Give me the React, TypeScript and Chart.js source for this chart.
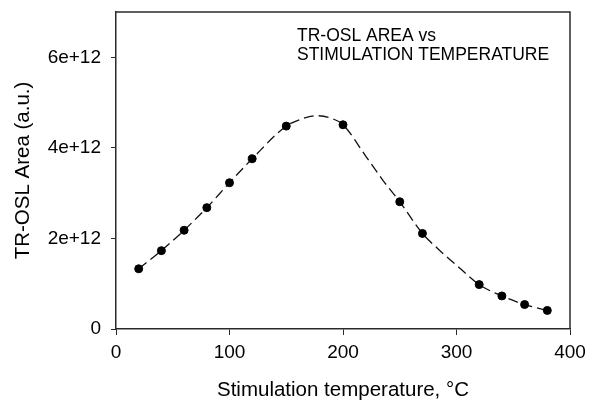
import React, { useEffect, useRef } from 'react';
import { Chart, registerables } from 'chart.js';

Chart.register(...registerables);

// Measured points (stimulation temperature, °C / TR-OSL area, a.u.)
const temps = [20, 40, 60, 80, 100, 120, 150, 200, 250, 270, 320, 340, 360, 380];
const areas = [1.33e12, 1.73e12, 2.18e12, 2.68e12, 3.23e12, 3.76e12, 4.48e12, 4.51e12, 2.81e12, 2.11e12, 0.98e12, 0.73e12, 0.54e12, 0.41e12];

// Fitted dashed curve
const fitTemps = [20, 40, 60, 80, 100, 120, 150, 165, 177, 190, 200, 220, 235, 250, 270, 285, 303, 320, 340, 360, 380];
const fitAreas = [1.33e12, 1.73e12, 2.18e12, 2.68e12, 3.23e12, 3.76e12, 4.48e12, 4.65e12, 4.71e12, 4.65e12, 4.51e12, 3.82e12, 3.29e12, 2.81e12, 2.11e12, 1.74e12, 1.34e12, 0.98e12, 0.73e12, 0.54e12, 0.41e12];

const xTicks = [0, 100, 200, 300, 400];
const yTicks = [0, 2e12, 4e12, 6e12];
const titleLines = ['TR-OSL AREA vs', 'STIMULATION TEMPERATURE'];
const xTitle = 'Stimulation temperature, \u00B0C';
const yTitle = 'TR-OSL Area (a.u.)';

const FONT = '"Liberation Sans", Arial, sans-serif';
const AXIS_COLOR = '#2a2a2a';

export default function App() {
  const ref = useRef<HTMLCanvasElement | null>(null);

  useEffect(() => {
    if (!ref.current) return;

    const framePlugin = {
      id: 'frameAndNote',
      afterDraw(chart: any) {
        const { ctx, chartArea } = chart;
        ctx.save();
        ctx.strokeStyle = AXIS_COLOR;
        ctx.lineWidth = 1.5;
        ctx.beginPath();
        ctx.moveTo(chartArea.left, chartArea.top);
        ctx.lineTo(chartArea.right, chartArea.top);
        ctx.lineTo(chartArea.right, chartArea.bottom);
        ctx.stroke();
        ctx.fillStyle = '#000';
        ctx.font = `17.5px ${FONT}`;
        ctx.textBaseline = 'alphabetic';
        ctx.textAlign = 'left';
        ctx.fillText(titleLines[0], 297, 41);
        ctx.fillText(titleLines[1], 297, 60);
        ctx.restore();
      },
    };

    const chart = new Chart(ref.current, {
      type: 'scatter',
      data: {
        datasets: [
          {
            type: 'line',
            label: 'fit',
            data: fitTemps.map((t, i) => ({ x: t, y: fitAreas[i] })),
            borderColor: '#111',
            borderWidth: 1.3,
            borderDash: [10, 5],
            pointRadius: 0,
            fill: false,
            cubicInterpolationMode: 'monotone',
            order: 2,
          },
          {
            label: 'data',
            data: temps.map((t, i) => ({ x: t, y: areas[i] })),
            backgroundColor: '#000',
            borderColor: '#000',
            pointRadius: 4,
            pointHoverRadius: 4,
            order: 1,
          },
        ],
      } as any,
      options: {
        responsive: false,
        animation: false,
        events: [],
        layout: { padding: { top: 12, right: 23, left: 0, bottom: 0 } },
        plugins: {
          legend: { display: false },
          tooltip: { enabled: false },
        },
        scales: {
          x: {
            type: 'linear',
            min: 0,
            max: 400,
            afterBuildTicks: (s: any) => { s.ticks = xTicks.map((v) => ({ value: v })); },
            afterFit: (s: any) => { s.height = 73; },
            ticks: {
              color: '#000',
              font: { family: FONT, size: 19 },
              padding: 6,
              maxRotation: 0,
            },
            grid: {
              display: true,
              drawOnChartArea: false,
              drawTicks: true,
              tickLength: 6,
              color: AXIS_COLOR,
              lineWidth: 1,
            },
            border: { display: true, color: AXIS_COLOR, width: 1.5 },
            title: {
              display: true,
              text: xTitle,
              color: '#000',
              font: { family: FONT, size: 20.5, lineHeight: 1 },
              padding: { top: 0, bottom: 1 },
            },
          },
          y: {
            type: 'linear',
            min: 0,
            max: 7e12,
            afterBuildTicks: (s: any) => { s.ticks = yTicks.map((v) => ({ value: v })); },
            afterFit: (s: any) => { s.width = 116; s.paddingTop = 0; s.paddingBottom = 0; },
            ticks: {
              color: '#000',
              font: { family: FONT, size: 19 },
              padding: 10,
              callback: (v: any) => (Number(v) === 0 ? '0' : Number(v).toExponential()),
            },
            grid: {
              display: true,
              drawOnChartArea: false,
              drawTicks: true,
              tickLength: 5,
              color: AXIS_COLOR,
              lineWidth: 1,
            },
            border: { display: true, color: AXIS_COLOR, width: 1.5 },
            title: {
              display: true,
              text: yTitle,
              color: '#000',
              font: { family: FONT, size: 20.5 },
              padding: { top: 11, bottom: 0 },
            },
          },
        },
      } as any,
      plugins: [framePlugin],
    });

    return () => chart.destroy();
  }, []);

  return (
    <div style={{ position: 'fixed', left: 0, top: 0, width: 593, height: 402, background: '#fff' }}>
      <canvas ref={ref} width={593} height={402} style={{ display: 'block', width: 593, height: 402 }} />
    </div>
  );
}
